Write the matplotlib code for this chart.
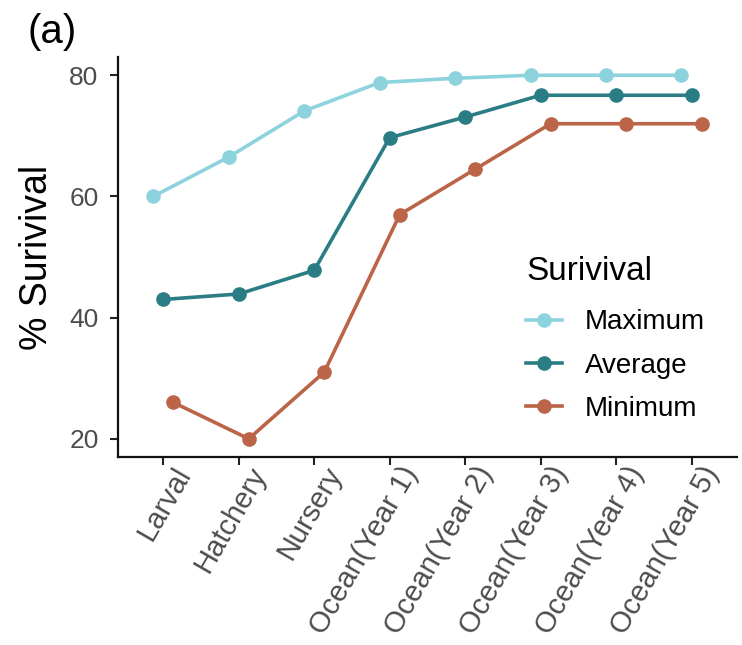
import matplotlib
matplotlib.use("Agg")
import matplotlib.pyplot as plt
from matplotlib.transforms import ScaledTranslation
import numpy as np

plt.rcParams['font.family'] = ['Liberation Sans', 'DejaVu Sans']

categories = ["Larval", "Hatchery", "Nursery", "Ocean(Year 1)", "Ocean(Year 2)",
              "Ocean(Year 3)", "Ocean(Year 4)", "Ocean(Year 5)"]
maximum = [60.0, 66.5, 74.1, 78.8, 79.5, 80.0, 80.0, 80.0]
average = [43.0, 43.9, 47.8, 69.7, 73.1, 76.7, 76.7, 76.7]
minimum = [26.0, 20.0, 31.0, 57.0, 64.5, 72.0, 72.0, 72.0]
series_names = ["Maximum", "Average", "Minimum"]
colors = ["#8dd3de", "#2a7d84", "#bb6448"]
y_ticks = [20, 40, 60, 80]

fig = plt.figure(figsize=(7.42, 6.45), dpi=100)
ax = fig.add_axes([0.159, 0.2915, 0.834, 0.620])

x = np.arange(1, len(categories) + 1)
offsets = [-0.133, 0.0, 0.133]
for vals, name, c, off in zip([maximum, average, minimum], series_names, colors, offsets):
    ax.plot(x + off, vals, color=c, lw=2.6, marker='o', ms=9.5, label=name)

ax.set_xlim(0.4, 8.6)
ax.set_ylim(17, 83)
ax.set_xticks(x)
ax.set_xticklabels(categories, rotation=60, ha='right', va='top',
                   rotation_mode='anchor', color='#4d4d4d', fontsize=21)
ax.set_yticks(y_ticks)
ax.set_yticklabels([str(v) for v in y_ticks], color='#4d4d4d', fontsize=19)
ax.tick_params(axis='both', length=6, width=1.5, color='#222222')
ax.tick_params(axis='x', pad=1)
ax.tick_params(axis='y', pad=8)
shift = ScaledTranslation(0.09, 0.05, fig.dpi_scale_trans)
for lab in ax.get_xticklabels():
    lab.set_transform(lab.get_transform() + shift)
for s in ['top', 'right']:
    ax.spines[s].set_visible(False)
for s in ['left', 'bottom']:
    ax.spines[s].set_linewidth(1.6)
    ax.spines[s].set_color('#111111')

ax.set_ylabel("% Surivival", fontsize=27, labelpad=10)

leg = ax.legend(title="Surivival", loc='upper left',
                bbox_to_anchor=(515 / 742, 1 - 245 / 645), bbox_transform=fig.transFigure,
                frameon=False, fontsize=20, title_fontsize=24, handlelength=1.3,
                labelspacing=0.62, handletextpad=0.8, borderaxespad=0)
leg._legend_box.align = "left"
leg._legend_box.sep = 16

fig.text(28 / 742, 1 - 13 / 645, "(a)", fontsize=29, va='top', ha='left')

fig.savefig("out.png", dpi=100)
